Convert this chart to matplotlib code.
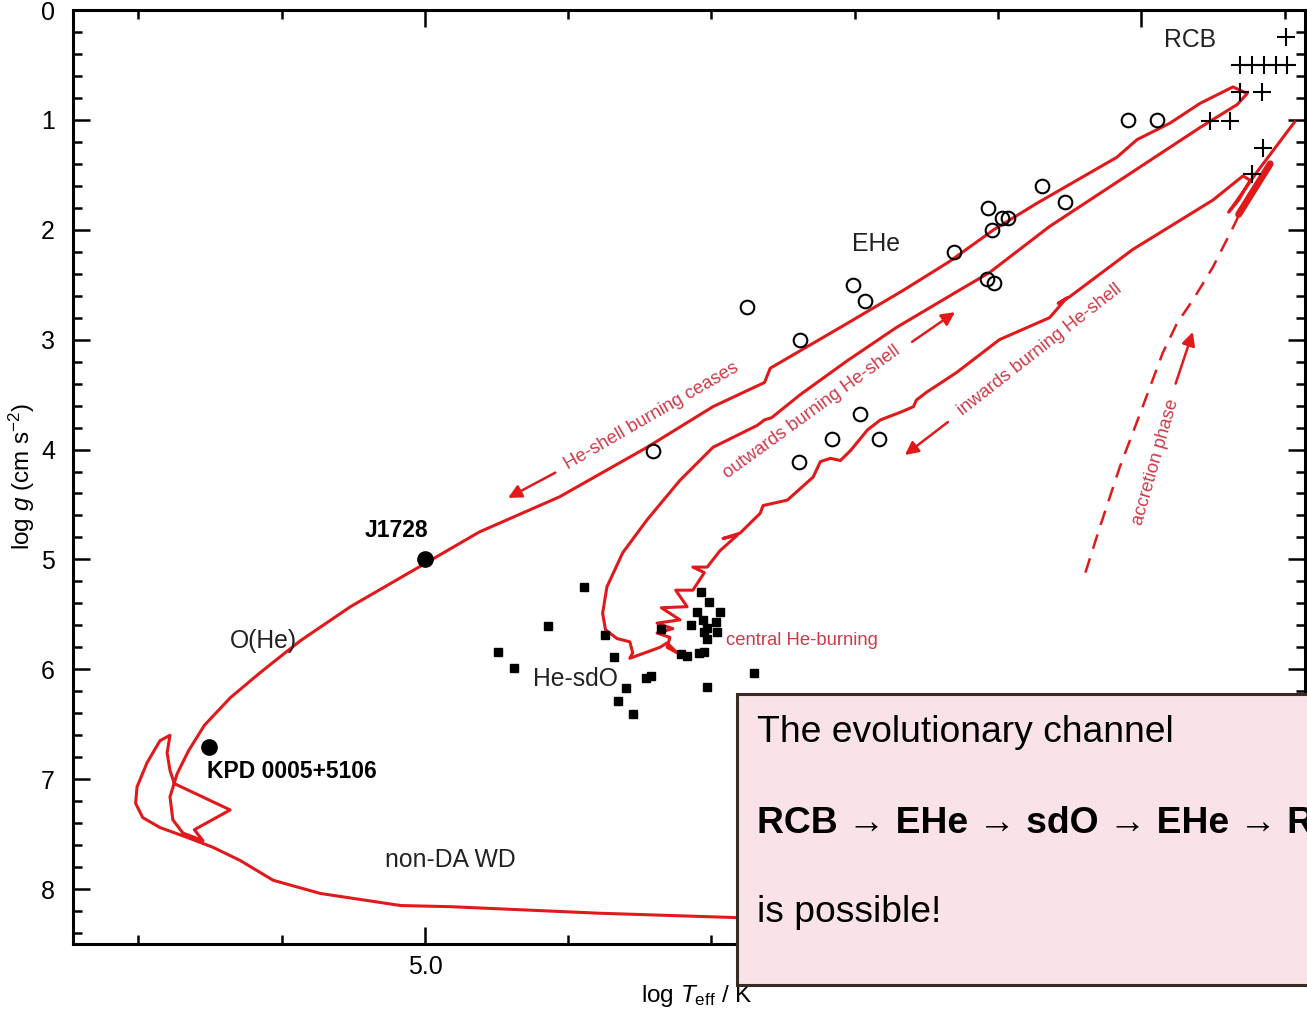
import matplotlib
matplotlib.use('Agg')
import matplotlib.pyplot as plt
from matplotlib.patches import Rectangle
from matplotlib.ticker import MultipleLocator, FormatStrFormatter

plt.rcParams['font.family'] = ['Liberation Sans', 'DejaVu Sans']
plt.rcParams['mathtext.fontset'] = 'custom'
plt.rcParams['mathtext.rm'] = 'Liberation Sans'
plt.rcParams['mathtext.it'] = 'Liberation Sans:italic'
plt.rcParams['mathtext.bf'] = 'Liberation Sans:bold'

# --- data (log Teff, log g) ---
ehe_logT = [4.509, 4.489, 4.569, 4.553, 4.607, 4.597, 4.593, 4.604, 4.631, 4.701,
            4.693, 4.608, 4.603, 4.775, 4.738, 4.696, 4.716, 4.683, 4.739, 4.841]
ehe_logg = [1.00, 1.00, 1.60, 1.75, 1.80, 1.89, 1.89, 2.00, 2.20, 2.50,
            2.65, 2.45, 2.48, 2.70, 3.00, 3.68, 3.90, 3.90, 4.11, 4.01]

rcb_logT = [4.399, 4.431, 4.423, 4.414, 4.406, 4.398, 4.431, 4.416, 4.452, 4.438, 4.415, 4.423]
rcb_logg = [0.25, 0.50, 0.50, 0.50, 0.50, 0.50, 0.75, 0.75, 1.01, 1.01, 1.26, 1.49]

sdo_logT = [4.889, 4.914, 4.949, 4.938, 4.874, 4.868, 4.860, 4.865, 4.855, 4.846,
            4.842, 4.835, 4.807, 4.802, 4.810, 4.794, 4.806, 4.814, 4.803, 4.797,
            4.796, 4.805, 4.803, 4.821, 4.817, 4.809, 4.805, 4.770, 4.803]
sdo_logg = [5.25, 5.61, 5.84, 5.99, 5.69, 5.89, 6.17, 6.29, 6.41, 6.08,
            6.06, 5.63, 5.30, 5.39, 5.48, 5.48, 5.55, 5.60, 5.62, 5.57,
            5.66, 5.66, 5.72, 5.86, 5.88, 5.85, 5.84, 6.03, 6.16]

named_stars = ['J1728', 'KPD 0005+5106']
named_logT = [5.000, 5.151]
named_logg = [5.00, 6.71]

# evolutionary track: RCB -> inwards shell burning -> central He burning
# -> outwards shell burning -> RCB -> He-shell burning ceases -> WD
track_logT = [4.393, 4.419, 4.439, 4.432, 4.424, 4.429,
              4.450, 4.506, 4.550, 4.558, 4.552, 4.564, 4.599, 4.629, 4.650, 4.657,
              4.659, 4.668, 4.682, 4.691, 4.703, 4.710, 4.717, 4.724, 4.729, 4.747,
              4.764, 4.766, 4.780, 4.792, 4.782, 4.794, 4.803, 4.813, 4.805, 4.813,
              4.825, 4.817, 4.835, 4.822, 4.838, 4.827, 4.838, 4.829, 4.831, 4.824,
              4.831, 4.836, 4.857,
              4.855, 4.857, 4.866, 4.874, 4.876, 4.873, 4.862, 4.845, 4.822, 4.799,
              4.768, 4.763, 4.758, 4.738, 4.705, 4.671, 4.627, 4.606, 4.564, 4.529,
              4.494, 4.459, 4.433, 4.426, 4.436,
              4.459, 4.480, 4.503, 4.517, 4.541, 4.573, 4.603, 4.634, 4.666, 4.705,
              4.759, 4.763, 4.799, 4.845, 4.906, 4.962, 4.999, 5.052, 5.087, 5.115,
              5.136, 5.154, 5.165, 5.173, 5.178, 5.176, 5.169, 5.155, 5.161, 5.136,
              5.175, 5.178, 5.180, 5.178, 5.185, 5.194, 5.201, 5.202, 5.197, 5.185,
              5.166, 5.148, 5.129, 5.106, 5.073, 5.017, 4.983, 4.878, 4.782, 4.738]
track_logg = [1.02, 1.47, 1.84, 1.73, 1.55, 1.51,
              1.73, 2.18, 2.61, 2.67, 2.62, 2.80, 3.00, 3.30, 3.48, 3.55,
              3.61, 3.66, 3.73, 3.82, 4.01, 4.10, 4.08, 4.11, 4.25, 4.46,
              4.51, 4.58, 4.76, 4.81, 4.78, 4.92, 5.07, 5.07, 5.12, 5.28,
              5.28, 5.43, 5.44, 5.55, 5.58, 5.63, 5.67, 5.71, 5.80, 5.85,
              5.76, 5.80, 5.90,
              5.85, 5.75, 5.72, 5.64, 5.49, 5.25, 4.94, 4.64, 4.28, 3.98,
              3.78, 3.73, 3.71, 3.50, 3.19, 2.89, 2.55, 2.39, 1.97, 1.67,
              1.37, 1.07, 0.86, 0.76, 0.70,
              0.85, 1.03, 1.18, 1.34, 1.52, 1.76, 2.00, 2.29, 2.55, 2.85,
              3.26, 3.39, 3.61, 3.98, 4.43, 4.75, 5.03, 5.43, 5.74, 6.03,
              6.26, 6.51, 6.74, 6.95, 7.16, 7.37, 7.49, 7.56, 7.46, 7.28,
              7.04, 6.92, 6.76, 6.60, 6.65, 6.85, 7.07, 7.22, 7.35, 7.44,
              7.53, 7.62, 7.74, 7.92, 8.04, 8.15, 8.16, 8.22, 8.26, 8.27]

wedge_logT = [4.432, 4.410]
wedge_logg = [1.86, 1.40]

accretion_logT = [4.539, 4.529, 4.515, 4.499, 4.485, 4.475, 4.464, 4.450, 4.436, 4.429]
accretion_logg = [5.12, 4.71, 4.16, 3.61, 3.12, 2.85, 2.64, 2.34, 1.98, 1.79]

# arrows: (tail logT, tail logg, head logT, head logg)
arrows = [(4.909, 4.21, 4.942, 4.44),
          (4.660, 3.02, 4.630, 2.75),
          (4.635, 3.75, 4.665, 4.05),
          (4.476, 3.40, 4.464, 2.93)]

red_labels = ['He-shell burning ceases', 'outwards burning He-shell',
              'inwards burning He-shell', 'accretion phase']
red_label_logT = [4.842, 4.730, 4.571, 4.490]
red_label_logg = [3.70, 3.66, 3.09, 4.11]
red_label_rot = [30, 36, 38, 74]

group_labels = ['RCB', 'EHe', 'O(He)', 'He-sdO', 'non-DA WD']
group_logT = [4.466, 4.685, 5.113, 4.895, 4.982]
group_logg = [0.27, 2.13, 5.74, 6.09, 7.74]

RED = '#e2191b'
TXTRED = '#cf3a48'

W, H = 1307, 1009
fig = plt.figure(figsize=(W / 100, H / 100), dpi=100)
ax = fig.add_axes([73 / W, 1 - 944 / H, (1305 - 73) / W, (944 - 10) / H])

ax.plot(track_logT, track_logg, color=RED, lw=2.2, solid_joinstyle='round', zorder=2)
ax.plot(wedge_logT, wedge_logg, color=RED, lw=5, solid_capstyle='round', zorder=2)
ax.plot(accretion_logT, accretion_logg, color=RED, lw=1.8, dashes=(6, 4), zorder=2)

for x0, y0, x1, y1 in arrows:
    ax.annotate('', xy=(x1, y1), xytext=(x0, y0),
                arrowprops=dict(arrowstyle='-|>', color=RED, lw=1.8,
                                mutation_scale=20, shrinkA=0, shrinkB=0))

for lab, x, y, r in zip(red_labels, red_label_logT, red_label_logg, red_label_rot):
    ax.text(x, y, lab, color=TXTRED, fontsize=13.3, rotation=r,
            rotation_mode='anchor', ha='center', va='center')
ax.text(4.790, 5.74, 'central He-burning', color=TXTRED, fontsize=13.3,
        ha='left', va='center')

ax.plot(ehe_logT, ehe_logg, 'o', mfc='none', mec='black', ms=9.8, mew=1.5, zorder=3)
ax.plot(rcb_logT, rcb_logg, '+', color='black', ms=13, mew=1.5, zorder=3)
ax.plot(sdo_logT, sdo_logg, 's', color='black', ms=5.5, zorder=3)
ax.plot(named_logT, named_logg, 'o', color='black', ms=11, zorder=3)

ax.text(5.020, 4.74, named_stars[0], fontsize=16.5, fontweight='bold',
        ha='center', va='center')
ax.text(5.152, 6.93, named_stars[1], fontsize=16.5, fontweight='bold',
        ha='left', va='center')
for lab, x, y in zip(group_labels, group_logT, group_logg):
    ax.text(x, y, lab, fontsize=17.8, ha='center', va='center', color='#222222')

ax.set_xlim(5.2457, 4.3857)
ax.set_ylim(8.5, 0)
ax.xaxis.set_major_locator(MultipleLocator(0.5))
ax.xaxis.set_minor_locator(MultipleLocator(0.1))
ax.xaxis.set_major_formatter(FormatStrFormatter('%.1f'))
ax.yaxis.set_major_locator(MultipleLocator(1))
ax.yaxis.set_minor_locator(MultipleLocator(0.2))
ax.tick_params(which='both', direction='in', top=True, right=True, width=1.8)
ax.tick_params(which='major', length=12, labelsize=18)
ax.tick_params(which='minor', length=6.5)
ax.tick_params(axis='x', pad=8)
ax.tick_params(axis='y', pad=13)
for sp in ax.spines.values():
    sp.set_linewidth(2.2)

fig.text(697 / W, 1 - 996 / H, r'log $T_{\rm eff}$ / K', fontsize=17.5,
         ha='center', va='center')
fig.text(22 / W, 1 - 476 / H, r'log $g$ (cm s$^{-2}$)', fontsize=17.5,
         rotation=90, ha='center', va='center')

box = Rectangle((737 / W, 1 - 985 / H), 0.6, (985 - 694) / H,
                transform=fig.transFigure, facecolor='#f9e3e8',
                edgecolor='#3a2b25', lw=2.2, zorder=5)
fig.add_artist(box)
fig.text(757 / W, 1 - 742 / H, 'The evolutionary channel', fontsize=26.8,
         ha='left', va='baseline', zorder=6)
fig.text(757 / W, 1 - 833 / H, r'RCB → EHe → sdO → EHe → RCB', fontsize=26.8,
         fontweight='bold', ha='left', va='baseline', zorder=6)
fig.text(757 / W, 1 - 922 / H, 'is possible!', fontsize=26.8,
         ha='left', va='baseline', zorder=6)

fig.savefig('out.png', dpi=100)
